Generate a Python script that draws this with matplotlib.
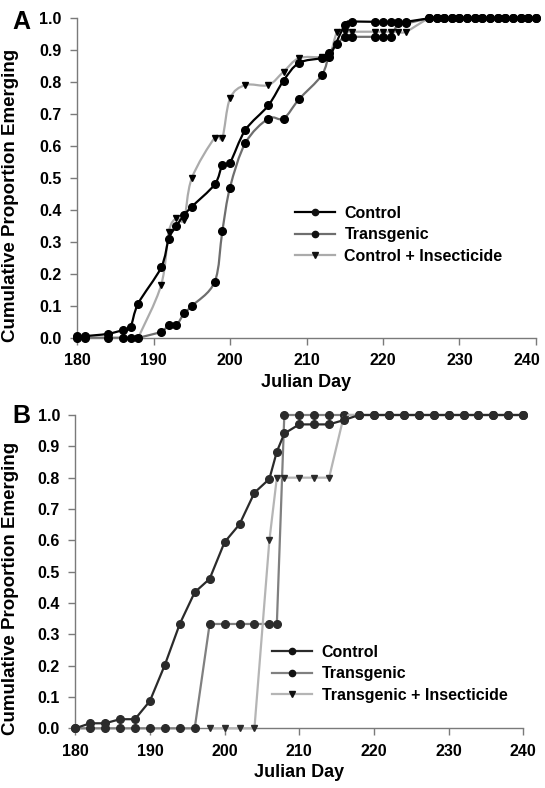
#!/usr/bin/env python3
"""Cumulative emergence curves for two field trials (panels A and B).

Creates out.png
"""

import matplotlib
matplotlib.use("Agg")
import matplotlib.pyplot as plt
import matplotlib.transforms as mtransforms
from matplotlib.path import Path
from matplotlib.patches import PathPatch
from matplotlib.lines import Line2D

plt.rcParams['font.family'] = ['Liberation Sans', 'DejaVu Sans']
plt.rcParams['font.weight'] = 'bold'

# ---- panel A data ----
a_control_days = [180, 181, 184, 186, 187, 188, 191, 192, 193, 194, 195, 198, 199, 200,
                  202, 205, 207, 209, 212, 213, 215, 216, 219, 220, 221, 222, 223,
                  226, 227, 228, 229, 230, 231, 232, 233, 234, 235, 236, 237, 238, 239, 240]
a_control_vals = [0.005, 0.005, 0.012, 0.024, 0.034, 0.107, 0.22, 0.31, 0.35, 0.384, 0.41,
                  0.48, 0.54, 0.548, 0.65, 0.727, 0.805, 0.86, 0.875, 0.88, 0.979, 0.989,
                  0.989, 0.989, 0.989, 0.989, 0.989,
                  1.0, 1.0, 1.0, 1.0, 1.0, 1.0, 1.0, 1.0, 1.0, 1.0, 1.0, 1.0, 1.0, 1.0, 1.0]

a_transgenic_days = [180, 181, 184, 186, 187, 188, 191, 192, 193, 194, 195, 198, 199, 200,
                     202, 205, 207, 209, 212, 213, 214, 215, 216, 219, 220, 221, 222, 223,
                     226, 227, 228, 229, 230, 231, 232, 233, 234, 235, 236, 237, 238, 239, 240]
a_transgenic_vals = [0.0, 0.0, 0.0, 0.0, 0.0, 0.0, 0.019, 0.04, 0.04, 0.076, 0.099, 0.175,
                     0.334, 0.47, 0.609, 0.686, 0.686, 0.746, 0.822, 0.89, 0.92, 0.942, 0.942,
                     0.942, 0.942, 0.942, 0.984, 0.984,
                     1.0, 1.0, 1.0, 1.0, 1.0, 1.0, 1.0, 1.0, 1.0, 1.0, 1.0, 1.0, 1.0, 1.0, 1.0]

a_insect_days = [188, 191, 192, 193, 194, 195, 198, 199, 200, 202, 205, 207, 209, 212, 213,
                 214, 215, 216, 219, 220, 221, 222, 223,
                 226, 227, 228, 229, 230, 231, 232, 233, 234, 235, 236, 237, 238, 239, 240]
a_insect_vals = [0.0, 0.165, 0.332, 0.374, 0.37, 0.499, 0.626, 0.626, 0.749, 0.791, 0.791,
                 0.833, 0.875, 0.878, 0.88, 0.958, 0.958, 0.958, 0.958, 0.958, 0.958, 0.958,
                 0.958,
                 1.0, 1.0, 1.0, 1.0, 1.0, 1.0, 1.0, 1.0, 1.0, 1.0, 1.0, 1.0, 1.0, 1.0, 1.0]

# ---- panel B data ----
b_control_days = [180, 182, 184, 186, 188, 190, 192, 194, 196, 198, 200, 202, 204, 206,
                  207, 208, 210, 212, 214, 216, 218, 220, 222, 224, 226, 228, 230, 232,
                  234, 236, 238, 240]
b_control_vals = [0.0, 0.016, 0.016, 0.029, 0.029, 0.087, 0.202, 0.333, 0.434, 0.477,
                  0.594, 0.651, 0.752, 0.796, 0.883, 0.941, 0.97, 0.97, 0.97, 0.984,
                  1.0, 1.0, 1.0, 1.0, 1.0, 1.0, 1.0, 1.0, 1.0, 1.0, 1.0, 1.0]

b_transgenic_days = [180, 182, 184, 186, 188, 190, 192, 194, 196, 198, 200, 202, 204, 206,
                     207, 208, 210, 212, 214, 216, 218, 220, 222, 224, 226, 228, 230, 232,
                     234, 236, 238, 240]
b_transgenic_vals = [0.0, 0.0, 0.0, 0.0, 0.0, 0.0, 0.0, 0.0, 0.0, 0.333, 0.333, 0.333,
                     0.333, 0.333, 0.333, 1.0, 1.0, 1.0, 1.0, 1.0, 1.0, 1.0, 1.0, 1.0, 1.0,
                     1.0, 1.0, 1.0, 1.0, 1.0, 1.0, 1.0]

b_insect_days = [198, 200, 202, 204, 206, 207, 208, 210, 212, 214, 216, 218, 220, 222,
                 224, 226, 228, 230, 232, 234, 236, 238, 240]
b_insect_vals = [0.0, 0.0, 0.0, 0.0, 0.6, 0.8, 0.8, 0.8, 0.8, 0.8, 1.0, 1.0, 1.0, 1.0,
                 1.0, 1.0, 1.0, 1.0, 1.0, 1.0, 1.0, 1.0, 1.0]

labels_a = ["Control", "Transgenic", "Control + Insecticide"]
labels_b = ["Control", "Transgenic", "Transgenic + Insecticide"]
y_ticks = [0.0, 0.1, 0.2, 0.3, 0.4, 0.5, 0.6, 0.7, 0.8, 0.9, 1.0]
x_ticks = [180, 190, 200, 210, 220, 230, 240]

C_DARK = '#000000'
C_MID = '#6e6e6e'
C_LIGHT = '#ababab'
SPINE = '#7a7a7a'


def smooth_path(xs, ys):
    # Excel-style smoothed line: cubic bezier through every point
    verts = [(xs[0], ys[0])]
    codes = [Path.MOVETO]
    n = len(xs)
    for i in range(n - 1):
        x0, y0 = (xs[i - 1], ys[i - 1]) if i > 0 else (xs[i], ys[i])
        x1, y1 = xs[i], ys[i]
        x2, y2 = xs[i + 1], ys[i + 1]
        x3, y3 = (xs[i + 2], ys[i + 2]) if i + 2 < n else (x2, y2)
        c1 = (x1 + (x2 - x0) / 6.0, y1 + (y2 - y0) / 6.0)
        c2 = (x2 - (x3 - x1) / 6.0, y2 - (y3 - y1) / 6.0)
        verts += [c1, c2, (x2, y2)]
        codes += [Path.CURVE4] * 3
    return Path(verts, codes)


def style_axes(ax):
    ax.set_xlim(180, 240)
    ax.set_ylim(0, 1.0)
    ax.set_xticks(x_ticks)
    ax.set_yticks(y_ticks)
    ax.set_yticklabels(["%.1f" % v for v in y_ticks])
    for s in ('top', 'right'):
        ax.spines[s].set_visible(False)
    for s in ('left', 'bottom'):
        ax.spines[s].set_color(SPINE)
        ax.spines[s].set_linewidth(1.0)
    ax.tick_params(direction='out', length=5, width=1, color=SPINE,
                   labelsize=11.5, pad=6)
    for lab in ax.get_xticklabels() + ax.get_yticklabels():
        lab.set_fontweight('bold')
    ax.set_xlabel("Julian Day", fontsize=13, fontweight='bold', labelpad=4)
    ax.set_ylabel("Cumulative Proportion Emerging", fontsize=13.5, fontweight='bold')


def legend(ax, labels, colors, markers, anchor):
    handles = [Line2D([0], [0], color=c, lw=1.6, marker=m, markersize=4.5,
                      markerfacecolor='#111111', markeredgecolor='#111111')
               for c, m in zip(colors, markers)]
    lg = ax.legend(handles, labels, loc='upper left', bbox_to_anchor=anchor,
                   bbox_transform=ax.figure.transFigure, frameon=False,
                   handlelength=2.5, handletextpad=0.6, labelspacing=0.4,
                   prop={'weight': 'bold', 'size': 11.5}, borderpad=0)
    return lg


fig = plt.figure(figsize=(5.45, 7.88), dpi=100)

# ---- panel A ----
ax_a = fig.add_axes([77 / 545, 1 - 337.7 / 788, 459 / 545, 319.4 / 788])
series_a = [(a_insect_days, a_insect_vals, C_LIGHT, 'v'),
            (a_transgenic_days, a_transgenic_vals, C_MID, 'o'),
            (a_control_days, a_control_vals, C_DARK, 'o')]
for days, vals, col, mk in series_a:
    ax_a.add_patch(PathPatch(smooth_path(days, vals), fill=False, edgecolor=col,
                             lw=1.6, clip_on=False, zorder=2))
    ax_a.plot(days, vals, linestyle='none', marker=mk, markersize=5.5 if mk == 'o' else 5,
              color='#000000', clip_on=False, zorder=3)
style_axes(ax_a)
ax_a.yaxis.set_label_coords(-0.1265, 0.445)
# last tick label sits on the figure edge; nudge it inwards
last = ax_a.get_xticklabels()[-1]
last.set_transform(last.get_transform() +
                   mtransforms.ScaledTranslation(-9 / 100, 0, fig.dpi_scale_trans))
legend(ax_a, labels_a, [C_DARK, C_MID, C_LIGHT], ['o', 'o', 'v'], (287 / 545, 1 - 198 / 788))
fig.text(12 / 545, 1 - 10 / 788, "A", fontsize=18, fontweight='bold', va='top', ha='left')

# ---- panel B ----
ax_b = fig.add_axes([75.2 / 545, 1 - 728.3 / 788, 448.1 / 545, 313.3 / 788])
series_b = [(b_transgenic_days, b_transgenic_vals, '#808080', 'o'),
            (b_insect_days, b_insect_vals, '#b5b5b5', 'v'),
            (b_control_days, b_control_vals, '#2b2b2b', 'o')]
for days, vals, col, mk in series_b:
    ax_b.plot(days, vals, color=col, lw=1.6, marker=mk,
              markersize=5.5 if mk == 'o' else 5,
              markerfacecolor='#2b2b2b', markeredgecolor='#2b2b2b', clip_on=False, zorder=3)
style_axes(ax_b)
ax_b.yaxis.set_label_coords(-0.125, 0.445)
legend(ax_b, labels_b, ['#2b2b2b', '#808080', '#b5b5b5'], ['o', 'o', 'v'], (264 / 545, 1 - 637 / 788))
fig.text(12 / 545, 1 - 404 / 788, "B", fontsize=18, fontweight='bold', va='top', ha='left')

fig.savefig("out.png", dpi=100)
plt.close(fig)
